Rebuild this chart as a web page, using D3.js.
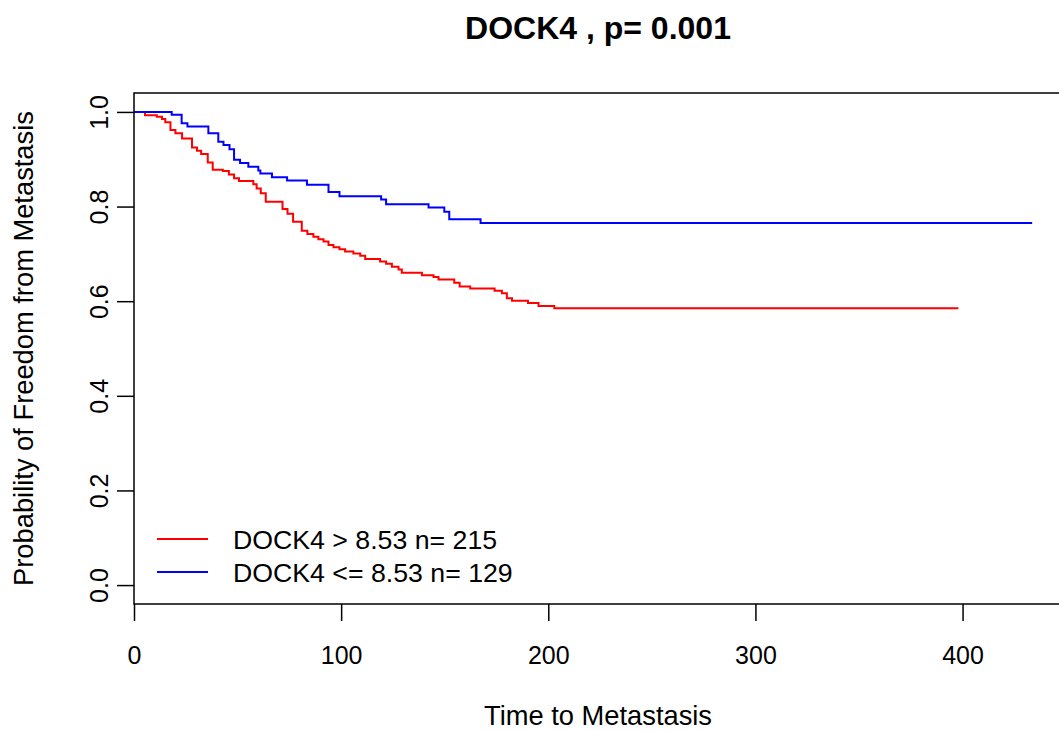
<!DOCTYPE html>
<html>
<head>
<meta charset="utf-8">
<script src="https://cdn.jsdelivr.net/npm/d3@7"></script>
<style>
  body { margin: 0; background: #fff; }
  text { font-family: "Liberation Sans", Arial, sans-serif; fill: #000; }
</style>
</head>
<body>
<div id="chart"></div>
<script>
// survival steps: time where the curve drops, and the new value
const highTimes = [0, 5.3, 11, 13.5, 15.1, 17.6, 20, 23.2, 28, 30.4, 32.4, 35.6, 38, 42.9, 45.8, 48.3, 50.7, 57.6, 59.2, 61.2, 63.6, 71.7, 74.1, 76.8, 81, 83.7, 86.6, 89, 91.5, 93.9, 96.3, 99.2, 101.9, 105.9, 109.2, 111.6, 118.8, 121.7, 124.5, 127.7, 129.3, 139, 144.6, 147, 154.6, 157.2, 162.3, 174.1, 177.6, 180, 182.5, 190.2, 195.3, 202.9, 398]
const highSurv = [1, 0.993, 0.99, 0.985, 0.978, 0.962, 0.955, 0.944, 0.925, 0.918, 0.911, 0.893, 0.878, 0.875, 0.868, 0.86, 0.854, 0.847, 0.838, 0.828, 0.81, 0.795, 0.785, 0.768, 0.749, 0.742, 0.736, 0.731, 0.726, 0.719, 0.714, 0.71, 0.705, 0.701, 0.696, 0.689, 0.684, 0.679, 0.673, 0.667, 0.66, 0.655, 0.651, 0.646, 0.639, 0.631, 0.627, 0.622, 0.617, 0.606, 0.601, 0.596, 0.59, 0.585, 0.585]

const lowTimes = [0, 18.2, 23, 25.8, 35.9, 40.7, 43.2, 46.1, 48.3, 51.2, 55.2, 60, 61, 66.6, 73.9, 83.5, 93.9, 99.2, 119.3, 121.7, 142.2, 149.8, 152.2, 167.3, 433.6]
const lowSurv = [1, 0.994, 0.976, 0.969, 0.955, 0.937, 0.93, 0.921, 0.899, 0.892, 0.884, 0.876, 0.87, 0.862, 0.855, 0.846, 0.831, 0.822, 0.815, 0.805, 0.798, 0.789, 0.773, 0.765, 0.765]

const groups = ["DOCK4 > 8.53 n= 215", "DOCK4 <= 8.53 n= 129"]
const colors = ["#ff0000", "#0000ff"]
const xTicks = [0, 100, 200, 300, 400]
const yTicks = [0, 0.2, 0.4, 0.6, 0.8, 1.0]

const W = 1059
const H = 731
const margin = { top: 93, right: -3, bottom: 127, left: 134 }
const width = W - margin.left - margin.right
const height = H - margin.top - margin.bottom

const svg = d3.select("#chart").append("svg")
    .attr("width", W)
    .attr("height", H)

const g = svg.append("g")
    .attr("transform", "translate(" + margin.left + "," + margin.top + ")")

const x = d3.scaleLinear()
  .domain([0, 448])
  .range([0, width])

const y = d3.scaleLinear()
  .domain([-0.04, 1.04])
  .range([height, 0])

const series = [
  highTimes.map((t, i) => [t, highSurv[i]]),
  lowTimes.map((t, i) => [t, lowSurv[i]])
]

const line = d3.line()
  .x(d => x(d[0]))
  .y(d => y(d[1]))
  .curve(d3.curveStepAfter)

g.selectAll(".km")
  .data(series)
  .join("path")
  .attr("class", "km")
  .attr("d", line)
  .attr("fill", "none")
  .attr("stroke", (d, i) => colors[i])
  .attr("stroke-width", 2)

// frame
g.append("rect")
  .attr("width", width)
  .attr("height", height)
  .attr("fill", "none")
  .attr("stroke", "#000")
  .attr("stroke-width", 1.5)

// x axis
const xAxis = g.append("g")
  .attr("transform", "translate(0," + height + ")")
  .call(d3.axisBottom(x).tickValues(xTicks).tickSize(17).tickPadding(25))
xAxis.select(".domain").remove()
xAxis.selectAll("line").attr("stroke-width", 1.5)
xAxis.selectAll("text").style("font-size", "25px")

// y axis, labels turned like R does
const yAxis = g.append("g")
  .call(d3.axisLeft(y).tickValues(yTicks).tickSize(17).tickFormat(d3.format(".1f")))
yAxis.select(".domain").remove()
yAxis.selectAll("line").attr("stroke-width", 1.5)
yAxis.selectAll("text")
  .style("font-size", "25px")
  .attr("text-anchor", "middle")
  .attr("x", 0)
  .attr("dy", 0)
  .attr("transform", "translate(-26,0) rotate(-90)")

// titles
svg.append("text")
  .attr("x", margin.left + width / 2)
  .attr("y", 39)
  .attr("text-anchor", "middle")
  .style("font-size", "32px")
  .style("font-weight", "bold")
  .text("DOCK4 , p= 0.001")

svg.append("text")
  .attr("x", margin.left + width / 2)
  .attr("y", 725)
  .attr("text-anchor", "middle")
  .style("font-size", "27.3px")
  .text("Time to Metastasis")

svg.append("text")
  .attr("transform", "translate(33," + (margin.top + height / 2) + ") rotate(-90)")
  .attr("text-anchor", "middle")
  .style("font-size", "27.3px")
  .text("Probability of Freedom from Metastasis")

// legend
const legend = svg.append("g")
  .attr("transform", "translate(157,539)")

const items = legend.selectAll("g")
  .data(groups)
  .join("g")
  .attr("transform", (d, i) => "translate(0," + i * 33 + ")")

items.append("line")
  .attr("x1", 0)
  .attr("x2", 51)
  .attr("stroke", (d, i) => colors[i])
  .attr("stroke-width", 2)

items.append("text")
  .attr("x", 76)
  .attr("y", 9.5)
  .style("font-size", "26.7px")
  .text(d => d)
</script>
</body>
</html>
